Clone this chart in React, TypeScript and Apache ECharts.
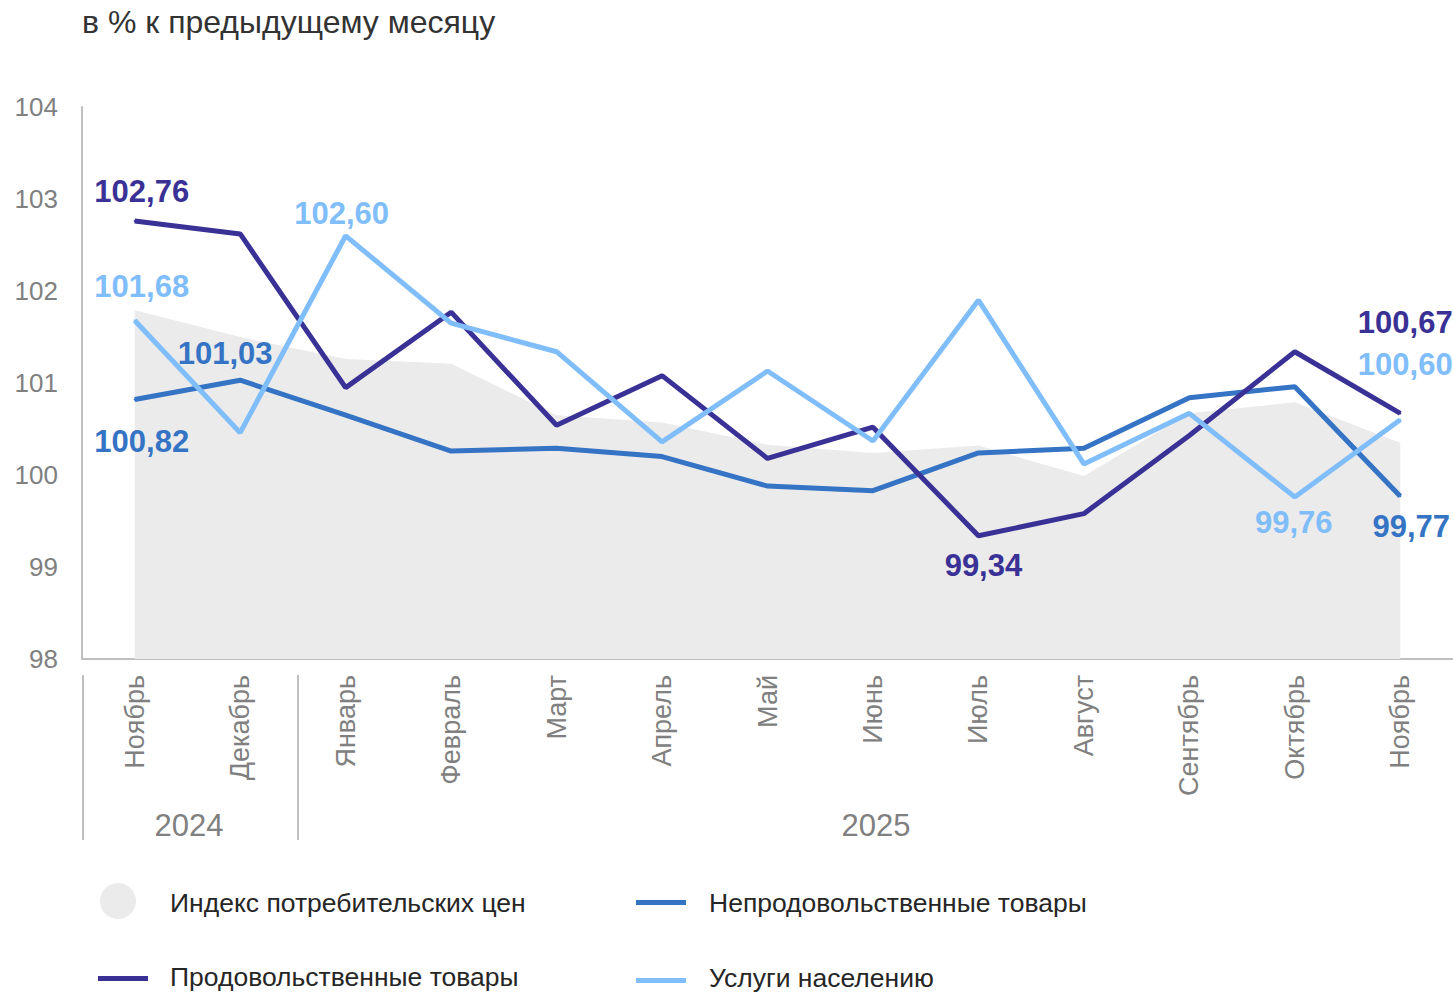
import React, { useEffect, useRef } from "react";
import * as echarts from "echarts";

const months = ["Ноябрь", "Декабрь", "Январь", "Февраль", "Март", "Апрель", "Май", "Июнь", "Июль", "Август", "Сентябрь", "Октябрь", "Ноябрь"];
const cpi = [101.79, 101.50, 101.26, 101.21, 100.65, 100.57, 100.33, 100.24, 100.32, 99.99, 100.67, 100.79, 100.35];
const food = [102.76, 102.62, 100.95, 101.77, 100.54, 101.08, 100.18, 100.52, 99.34, 99.58, 100.43, 101.34, 100.67];
const nonFood = [100.82, 101.03, 100.65, 100.26, 100.29, 100.20, 99.88, 99.83, 100.24, 100.29, 100.84, 100.96, 99.77];
const services = [101.68, 100.46, 102.60, 101.65, 101.34, 100.36, 101.13, 100.37, 101.90, 100.12, 100.67, 99.76, 100.60];
const yTicks = [98, 99, 100, 101, 102, 103, 104];
const years = ["2024", "2025"];
const legendNames = ["Индекс потребительских цен", "Продовольственные товары", "Непродовольственные товары", "Услуги населению"];

const C_CPI = "#ebebeb";
const C_FOOD = "#393195";
const C_NONFOOD = "#3573c4";
const C_SERV = "#80bdfb";
const FONT = "'Liberation Sans', Arial, sans-serif";

const fmt = (p: any) => Number(p.value).toFixed(2).replace(".", ",");

function lbl(color: string, position: string, offset: number[], align?: string) {
  return {
    show: true,
    position,
    offset,
    formatter: fmt,
    color,
    fontSize: 31,
    fontWeight: "bold",
    fontFamily: FONT,
    ...(align ? { align } : {}),
  };
}

function withLabels(values: number[], labels: Record<number, any>) {
  return values.map((v, i) => (labels[i] ? { value: v, label: labels[i] } : { value: v }));
}

function lineSeries(name: string, color: string, data: any[], z: number) {
  return {
    name,
    type: "line",
    data,
    symbol: "circle",
    symbolSize: 2,
    showSymbol: true,
    itemStyle: { color },
    lineStyle: { color, width: 5 },
    label: { show: false },
    z,
  };
}

export default function App() {
  const ref = useRef<HTMLDivElement>(null);
  useEffect(() => {
    if (!ref.current) return;
    const chart = echarts.init(ref.current, null, { renderer: "svg" });
    const last = months.length - 1;
    chart.setOption({
      animation: false,
      textStyle: { fontFamily: FONT },
      grid: { left: 82, right: 0, top: 107, bottom: 334, containLabel: false },
      xAxis: {
        type: "category",
        data: months,
        boundaryGap: true,
        axisLine: { show: true, lineStyle: { color: "#bfbfbf", width: 2 } },
        axisTick: { show: false },
        axisLabel: { rotate: 90, color: "#808080", fontSize: 27, margin: 16, fontFamily: FONT, interval: 0 },
        splitLine: { show: false },
      },
      yAxis: {
        type: "value",
        min: yTicks[0],
        max: yTicks[yTicks.length - 1],
        interval: 1,
        axisLine: { show: true, lineStyle: { color: "#bfbfbf", width: 2 } },
        axisTick: { show: false },
        axisLabel: { color: "#808080", fontSize: 26, margin: 24, fontFamily: FONT },
        splitLine: { show: false },
      },
      series: [
        {
          name: legendNames[0],
          type: "line",
          data: cpi,
          symbol: "none",
          lineStyle: { width: 0, opacity: 0 },
          areaStyle: { color: C_CPI, opacity: 1, origin: "start" },
          z: 1,
        },
        lineSeries(legendNames[2], C_NONFOOD, withLabels(nonFood, {
          0: lbl(C_NONFOOD, "bottom", [7, 20]),
          1: lbl(C_NONFOOD, "top", [-15, -5]),
          [last]: lbl(C_NONFOOD, "bottom", [11, 9]),
        }), 2),
        lineSeries(legendNames[1], C_FOOD, withLabels(food, {
          0: lbl(C_FOOD, "top", [7, -8]),
          8: lbl(C_FOOD, "bottom", [5, 8]),
          [last]: lbl(C_FOOD, "top", [5, -69]),
        }), 3),
        lineSeries(legendNames[3], C_SERV, withLabels(services, {
          0: lbl(C_SERV, "top", [7, -12]),
          2: lbl(C_SERV, "top", [-4, -1]),
          11: lbl(C_SERV, "bottom", [-1, 4]),
          [last]: lbl(C_SERV, "top", [5, -34]),
        }), 4),
      ],
      graphic: [
        { type: "text", left: 82, top: 6, style: { text: "в % к предыдущему месяцу", fill: "#333333", fontSize: 32, fontFamily: FONT } },
        { type: "line", shape: { x1: 83, y1: 675, x2: 83, y2: 840 }, style: { stroke: "#bfbfbf", lineWidth: 2 } },
        { type: "line", shape: { x1: 298, y1: 675, x2: 298, y2: 840 }, style: { stroke: "#bfbfbf", lineWidth: 2 } },
        { type: "text", x: 189, y: 825, style: { text: years[0], fill: "#808080", fontSize: 31, fontFamily: FONT, align: "center", verticalAlign: "middle" } },
        { type: "text", x: 876, y: 825, style: { text: years[1], fill: "#808080", fontSize: 31, fontFamily: FONT, align: "center", verticalAlign: "middle" } },
        { type: "circle", shape: { cx: 118, cy: 901, r: 18 }, style: { fill: C_CPI } },
        { type: "text", x: 170, y: 903, style: { text: legendNames[0], fill: "#262626", fontSize: 26.5, fontFamily: FONT, verticalAlign: "middle" } },
        { type: "rect", shape: { x: 98, y: 976, width: 50, height: 5 }, style: { fill: C_FOOD } },
        { type: "text", x: 170, y: 977, style: { text: legendNames[1], fill: "#262626", fontSize: 26.5, fontFamily: FONT, verticalAlign: "middle" } },
        { type: "rect", shape: { x: 636, y: 900, width: 50, height: 5 }, style: { fill: C_NONFOOD } },
        { type: "text", x: 709, y: 903, style: { text: legendNames[2], fill: "#262626", fontSize: 26.5, fontFamily: FONT, verticalAlign: "middle" } },
        { type: "rect", shape: { x: 636, y: 978, width: 50, height: 5 }, style: { fill: C_SERV } },
        { type: "text", x: 709, y: 978, style: { text: legendNames[3], fill: "#262626", fontSize: 26.5, fontFamily: FONT, verticalAlign: "middle" } },
      ],
    });
    return () => chart.dispose();
  }, []);
  return <div ref={ref} style={{ position: "absolute", left: 0, top: 0, width: 1453, height: 993 }} />;
}
